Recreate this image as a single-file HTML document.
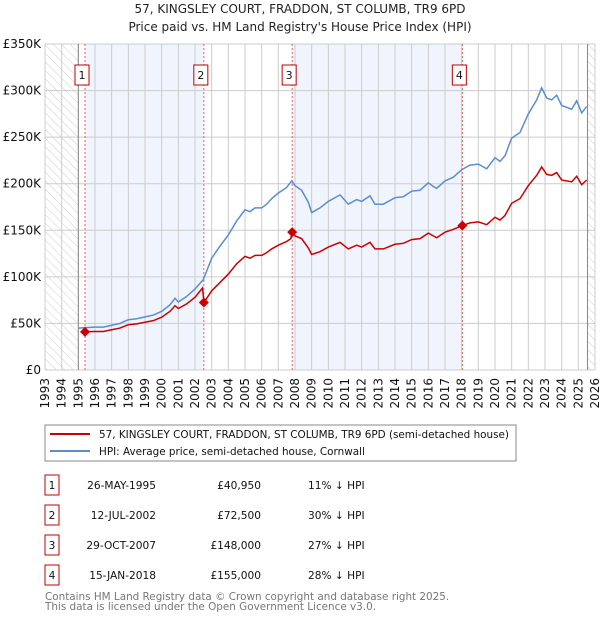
<!DOCTYPE html>
<html><head><meta charset="utf-8"><style>
body{margin:0;background:#fff;}
svg text{font-family:"DejaVu Sans","Liberation Sans",sans-serif;}
</style></head><body>
<svg id="chart" width="600" height="620" viewBox="0 0 600 620" xmlns="http://www.w3.org/2000/svg">
<defs><pattern id="hatch" width="6" height="6" patternUnits="userSpaceOnUse" patternTransform="rotate(-45)"><line x1="0" y1="0" x2="0" y2="6" stroke="#ccc" stroke-width="1"/></pattern></defs>
<text x="300" y="13" font-size="12" text-anchor="middle" fill="#222">57, KINGSLEY COURT, FRADDON, ST COLUMB, TR9 6PD</text>
<text x="300" y="31" font-size="12" text-anchor="middle" fill="#222">Price paid vs. HM Land Registry's House Price Index (HPI)</text>
<g id="plot"></g>
<g>
<rect x="45" y="425" width="471" height="36" fill="#fff" stroke="#888"/>
<line x1="50" y1="434" x2="90" y2="434" stroke="#cc0000" stroke-width="2"/>
<text x="99" y="438" font-size="10.4" fill="#111">57, KINGSLEY COURT, FRADDON, ST COLUMB, TR9 6PD (semi-detached house)</text>
<line x1="50" y1="451" x2="90" y2="451" stroke="#5b8dd0" stroke-width="2"/>
<text x="99" y="455" font-size="10.4" fill="#111">HPI: Average price, semi-detached house, Cornwall</text>
</g>
<g id="table" font-size="10.6" fill="#111"></g>
<text x="45" y="600" font-size="10.4" fill="#777">Contains HM Land Registry data © Crown copyright and database right 2025.</text>
<text x="45" y="610" font-size="10.4" fill="#777">This data is licensed under the Open Government Licence v3.0.</text>
</svg>
<script>
const hpiYears=[1995.0,1995.4,1996,1996.5,1997,1997.5,1998,1998.5,1999,1999.5,2000,2000.5,2000.8,2001,2001.5,2002,2002.5,2003,2003.5,2004,2004.5,2005,2005.3,2005.6,2006,2006.3,2006.6,2007,2007.5,2007.8,2008,2008.4,2008.8,2009,2009.5,2010,2010.7,2011.2,2011.7,2012,2012.5,2012.8,2013.3,2014,2014.5,2015,2015.5,2016,2016.3,2016.5,2017,2017.5,2018,2018.5,2019,2019.5,2020,2020.3,2020.6,2021,2021.5,2022,2022.5,2022.8,2023.1,2023.4,2023.7,2024,2024.6,2024.9,2025.2,2025.5];
const hpiValues=[45,45.5,46,46,48,50,54,55,57,59,63,70,77,73,79,87,97,120,133,145,160,172,170,174,174,178,184,190,196,203,198,193,180,169,174,181,188,178,183,181,187,178,178,185,186,192,193,201,197,195,203,207,215,220,221,216,228,224,230,249,255,275,290,303,292,290,295,284,280,289,276,283];
const priceYears=[1995.4,1996,1996.5,1997,1997.5,1998,1998.5,1999,1999.5,2000,2000.5,2000.8,2001,2001.5,2002,2002.45,2002.54,2003,2003.5,2004,2004.5,2005,2005.3,2005.6,2006,2006.3,2006.6,2007,2007.5,2007.75,2007.82,2008,2008.4,2008.8,2009,2009.5,2010,2010.7,2011.2,2011.7,2012,2012.5,2012.8,2013.3,2014,2014.5,2015,2015.5,2016,2016.3,2016.5,2017,2017.5,2018.04,2018.5,2019,2019.5,2020,2020.3,2020.6,2021,2021.5,2022,2022.5,2022.8,2023.1,2023.4,2023.7,2024,2024.6,2024.9,2025.2,2025.5];
const priceValues=[41,41.4,41.4,43.2,45,48.6,49.5,51.3,53,56.7,63,69,66,71,78,88,72.5,85,94,103,114,122,120,123,123,126,130,134,138,141,148,144,141,131,124,127,132,137,130,134,132,137,130,130,135,136,140,141,147,144,142,148,151,155,158,159,156,164,161,166,179,184,198,209,218,210,209,212,204,202,208,199,204];
const saleYears=[1995.4,2002.53,2007.83,2018.04];
const saleValues=[40.95,72.5,148,155];
const saleDates=["26-MAY-1995","12-JUL-2002","29-OCT-2007","15-JAN-2018"];
const salePrices=["£40,950","£72,500","£148,000","£155,000"];
const saleDiffs=["11% ↓ HPI","30% ↓ HPI","27% ↓ HPI","28% ↓ HPI"];
const yTicks=[0,50,100,150,200,250,300,350];
const yTickLabels=["£0","£50K","£100K","£150K","£200K","£250K","£300K","£350K"];
const xTicks=[1993,1994,1995,1996,1997,1998,1999,2000,2001,2002,2003,2004,2005,2006,2007,2008,2009,2010,2011,2012,2013,2014,2015,2016,2017,2018,2019,2020,2021,2022,2023,2024,2025,2026];

const NS="http://www.w3.org/2000/svg";
const L=45,R=595,T=44,B=370;
const xs=y=>L+(y-1993)*(R-L)/33;
const ys=v=>B-v*(B-T)/350;
const plot=document.getElementById('plot');
function mk(tag,attrs,parent){const e=document.createElementNS(NS,tag);for(const k in attrs)e.setAttribute(k,attrs[k]);(parent||plot).appendChild(e);return e;}

let e;
e=mk('rect',{x:L,y:T,width:R-L,height:B-T,fill:'#fff'});


e=mk('rect',{x:xs(saleYears[0]),y:T,width:xs(saleYears[1])-xs(saleYears[0]),height:B-T,fill:'#f0f4fd'});


e=mk('rect',{x:xs(saleYears[2]),y:T,width:xs(saleYears[3])-xs(saleYears[2]),height:B-T,fill:'#f0f4fd'});


e=mk('rect',{x:L,y:T,width:xs(1995)-L,height:B-T,fill:'url(#hatch)'});


e=mk('rect',{x:xs(2025.55),y:T,width:R-xs(2025.55),height:B-T,fill:'url(#hatch)'});


xTicks.forEach(t=>{
 e=mk('line',{x1:xs(t),x2:xs(t),y1:T,y2:B,stroke:'#ccc','stroke-width':1});
 
 
 e=mk('text',{x:0,y:0,transform:`translate(${xs(t)+4},${B+8}) rotate(-90)`,'font-size':12,'text-anchor':'end',fill:'#111'});
 e.textContent=t;
 
 
});
yTicks.forEach((t,i)=>{
 e=mk('line',{x1:L,x2:R,y1:ys(t),y2:ys(t),stroke:'#ccc','stroke-width':1});
 
 
 e=mk('text',{x:L-4,y:ys(t)+4,'font-size':12,'text-anchor':'end',fill:'#111'});
 e.textContent=yTickLabels[i];
 
 
});
e=mk('line',{x1:xs(1995),x2:xs(1995),y1:T,y2:B,stroke:'#888'});


e=mk('line',{x1:xs(2025.55),x2:xs(2025.55),y1:T,y2:B,stroke:'#888'});


saleYears.forEach((y,i)=>{
 e=mk('line',{x1:xs(y),x2:xs(y),y1:T,y2:B,stroke:'#e06060','stroke-dasharray':'2,2'});
 
 
 e=mk('rect',{x:xs(y)-10,y:65,width:14,height:20,fill:'#fff',stroke:'#c00000'});
 
 
 e=mk('text',{x:xs(y)-3,y:79,'font-size':11,'text-anchor':'middle',fill:'#111'});
 e.textContent=i+1;
 
 
});
e=mk('polyline',{points:hpiYears.map((y,i)=>xs(y)+','+ys(hpiValues[i])).join(' '),fill:'none',stroke:'#5b8dd0','stroke-width':1.5});


e=mk('polyline',{points:priceYears.map((y,i)=>xs(y)+','+ys(priceValues[i])).join(' '),fill:'none',stroke:'#cc0000','stroke-width':1.5});


saleYears.forEach((y,i)=>{
 const cx=xs(y),cy=ys(saleValues[i]);
 e=mk('polygon',{points:`${cx},${cy-5} ${cx+5},${cy} ${cx},${cy+5} ${cx-5},${cy}`,fill:'#cc0000'});
 
 
});
const tb=document.getElementById('table');
saleDates.forEach((d,i)=>{
 const cy=485+i*30;
 e=mk('rect',{x:45,y:cy-10,width:14,height:20,fill:'#fff',stroke:'#c00000'},tb);
 
 
 e=mk('text',{x:52,y:cy+4,'text-anchor':'middle'},tb);e.textContent=i+1;
 
 
 e=mk('text',{x:156,y:cy+4,'text-anchor':'end'},tb);e.textContent=d;
 
 
 e=mk('text',{x:261,y:cy+4,'text-anchor':'end'},tb);e.textContent=salePrices[i];
 
 
 e=mk('text',{x:308,y:cy+4},tb);e.textContent=saleDiffs[i];
 
 
});
</script>
</body></html>
